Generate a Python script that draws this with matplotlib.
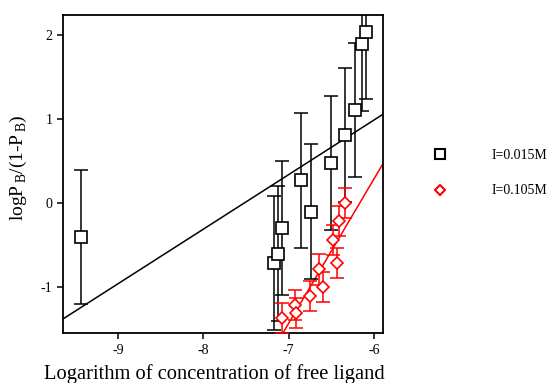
import matplotlib
matplotlib.use("Agg")
import matplotlib.pyplot as plt
from matplotlib.lines import Line2D
import numpy as np

plt.rcParams["font.family"] = ["Liberation Serif", "DejaVu Serif"]
plt.rcParams["mathtext.fontset"] = "custom"
plt.rcParams["mathtext.rm"] = "Liberation Serif"
plt.rcParams["axes.unicode_minus"] = False

# Low ionic strength series (I = 0.015 M)
x_low = [-9.43, -7.17, -7.12, -7.08, -6.855, -6.74, -6.50, -6.34, -6.22, -6.14, -6.10]
y_low = [-0.40, -0.71, -0.60, -0.30, 0.27, -0.10, 0.48, 0.81, 1.11, 1.90, 2.04]
err_low = 0.8

# High ionic strength series (I = 0.105 M)
x_high = [-7.08, -6.925, -6.91, -6.75, -6.64, -6.60, -6.48, -6.44, -6.41, -6.34]
y_high = [-1.37, -1.21, -1.31, -1.11, -0.79, -1.00, -0.44, -0.71, -0.21, 0.00]
err_high = 0.18

# Fitted straight lines (slope, intercept)
fit_low = (0.65, 4.89)
fit_high = (1.72, 10.61)

xlim = (-9.645, -5.895)
ylim = (-1.55, 2.24)

fig = plt.figure(figsize=(5.5, 3.83), dpi=100)
ax = fig.add_axes([0.1145, 0.1298, 0.5819, 0.831])

xx = np.array(xlim)
ax.plot(xx, fit_low[0] * xx + fit_low[1], color="black", lw=1.1, zorder=2)
ax.plot(xx, fit_high[0] * xx + fit_high[1], color="red", lw=1.1, zorder=2)

ax.errorbar(x_low, y_low, yerr=err_low, fmt="none", ecolor="black",
            elinewidth=1.1, capsize=5, capthick=1.1, zorder=3)
ax.plot(x_low, y_low, ls="none", marker="s", ms=8, mfc="white",
        mec="black", mew=1.2, zorder=4)

ax.errorbar(x_high, y_high, yerr=err_high, fmt="none", ecolor="red",
            elinewidth=1.1, capsize=5, capthick=1.1, zorder=3)
ax.plot(x_high, y_high, ls="none", marker="D", ms=6.5, mfc="white",
        mec="red", mew=1.2, zorder=4)

ax.set_xlim(*xlim)
ax.set_ylim(*ylim)
ax.set_xticks([-9, -8, -7, -6])
ax.set_yticks([-1, 0, 1, 2])
ax.tick_params(direction="out", length=4, width=1.1, labelsize=10)
for sp in ax.spines.values():
    sp.set_linewidth(1.3)

ax.set_xlabel("Logarithm of concentration of free ligand", fontsize=14.8)
ax.xaxis.set_label_coords(0.473, -0.097)
ax.set_ylabel(r"logP$_{\,\mathrm{B}}$/(1-P$_{\,\mathrm{B}}$)", fontsize=14)
ax.yaxis.set_label_coords(-0.105, 0.52)

handles = [
    Line2D([], [], ls="none", marker="s", ms=7, mfc="white", mec="black", mew=1.5),
    Line2D([], [], ls="none", marker="D", ms=5.5, mfc="white", mec="red", mew=1.5),
]
fig.legend(handles, ["I=0.015M", "I=0.105M"], loc="upper left",
           bbox_to_anchor=(0.752, 0.643), frameon=False, fontsize=10,
           handlelength=2, handletextpad=2.7, labelspacing=1.6)

fig.savefig("out.png", dpi=100)
